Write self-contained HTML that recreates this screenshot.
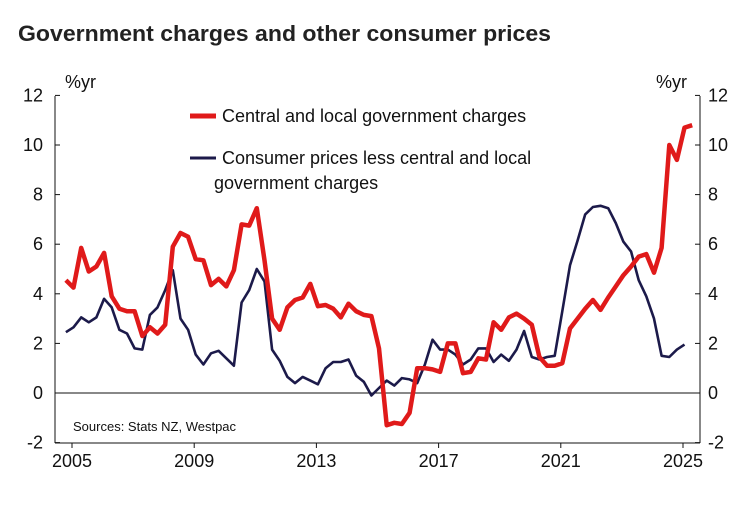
<!DOCTYPE html>
<html><head><meta charset="utf-8"><style>
body{margin:0;background:#fff;width:751px;height:519px;overflow:hidden;font-family:"Liberation Sans",sans-serif}
svg text{font-family:"Liberation Sans",sans-serif}
</style></head><body>
<svg width="751" height="519">
<text x="18" y="41" font-size="22" font-weight="bold" fill="#222" textLength="533" lengthAdjust="spacingAndGlyphs">Government charges and other consumer prices</text>
<g id="axes"></g>
<g id="series"></g>
<text x="65" y="88" font-size="18" fill="#111">%yr</text>
<text x="656" y="88" font-size="18" fill="#111">%yr</text>
<text x="73" y="431" font-size="13" fill="#111">Sources: Stats NZ, Westpac</text>
<g>
<line x1="190" y1="116" x2="216" y2="116" stroke="#e01a1a" stroke-width="5"/>
<text x="222" y="122" font-size="18" fill="#111">Central and local government charges</text>
<line x1="190" y1="158" x2="216" y2="158" stroke="#1c1a4a" stroke-width="3"/>
<text x="222" y="164" font-size="18" fill="#111">Consumer prices less central and local</text>
<text x="214" y="189" font-size="18" fill="#111">government charges</text>
</g>
</svg>
<script>
const startYear = 2004.8;
const yTicks = [-2,0,2,4,6,8,10,12];
const xTicks = [2005,2009,2013,2017,2021,2025];
const govCharges = [4.55,4.25,5.85,4.9,5.1,5.65,3.9,3.4,3.3,3.3,2.3,2.65,2.4,2.75,5.9,6.45,6.3,5.4,5.35,4.35,4.6,4.3,4.95,6.8,6.75,7.45,5.35,3.0,2.55,3.45,3.75,3.85,4.4,3.5,3.55,3.4,3.05,3.6,3.3,3.15,3.1,1.8,-1.3,-1.2,-1.25,-0.8,1.0,1.0,0.95,0.85,2.0,2.0,0.8,0.85,1.4,1.35,2.85,2.55,3.05,3.2,3.0,2.75,1.45,1.1,1.1,1.2,2.6,3.0,3.4,3.75,3.35,3.85,4.3,4.75,5.1,5.5,5.6,4.85,5.85,10.0,9.4,10.7,10.8];
const consumerPrices = [2.45,2.65,3.05,2.85,3.05,3.8,3.45,2.55,2.4,1.8,1.75,3.15,3.45,4.15,4.95,3.0,2.55,1.55,1.15,1.6,1.7,1.4,1.1,3.65,4.15,5.0,4.5,1.75,1.3,0.65,0.4,0.65,0.5,0.35,1.0,1.25,1.25,1.35,0.7,0.45,-0.1,0.2,0.5,0.3,0.6,0.55,0.4,1.15,2.15,1.75,1.75,1.55,1.15,1.35,1.8,1.8,1.25,1.55,1.3,1.75,2.5,1.45,1.35,1.45,1.5,3.3,5.15,6.15,7.2,7.5,7.55,7.45,6.85,6.1,5.7,4.55,3.9,3.0,1.5,1.45,1.75,1.95];
const L=55,R=700,T=96,B=443;
const y=v=>393-v*24.8;
const x=yr=>72+(yr-2005)*30.55;
const NS="http://www.w3.org/2000/svg";
function mk(tag,attrs,parent){const e=document.createElementNS(NS,tag);for(const k in attrs)e.setAttribute(k,attrs[k]);parent.appendChild(e);return e;}
const ax=document.getElementById('axes');
let e;
e=mk('line',{x1:L,y1:T,x2:L,y2:B,stroke:'#111','stroke-width':1},ax);


e=mk('line',{x1:R,y1:T,x2:R,y2:B,stroke:'#111','stroke-width':1},ax);


e=mk('line',{x1:L,y1:B,x2:R,y2:B,stroke:'#111','stroke-width':1},ax);


e=mk('line',{x1:L,y1:y(0),x2:R,y2:y(0),stroke:'#111','stroke-width':1},ax);


yTicks.forEach(v=>{
 mk('line',{x1:L,y1:y(v),x2:L+5,y2:y(v),stroke:'#111'},ax);
 mk('line',{x1:R-5,y1:y(v),x2:R,y2:y(v),stroke:'#111'},ax);
 e=mk('text',{x:L-12,y:y(v)+6,'font-size':18,'text-anchor':'end',fill:'#111'},ax);e.textContent=v;
 
 
 e=mk('text',{x:R+8,y:y(v)+6,'font-size':18,fill:'#111'},ax);e.textContent=v;
 
 
});
xTicks.forEach(t=>{
 mk('line',{x1:x(t),y1:B,x2:x(t),y2:B+5,stroke:'#111'},ax);
 e=mk('text',{x:x(t),y:B+24,'font-size':18,'text-anchor':'middle',fill:'#111'},ax);e.textContent=t;
 
 
});
const sg=document.getElementById('series');
function line(arr,color,w,name){
 const pts=arr.map((v,i)=>x(startYear+i*0.25).toFixed(1)+','+y(v).toFixed(1)).join(' ');
 const p=mk('polyline',{points:pts,fill:'none',stroke:color,'stroke-width':w,'stroke-linejoin':'round'},sg);
 
 
}
line(consumerPrices,'#1c1a4a',2.6,'consumer-prices-line');
line(govCharges,'#e01a1a',4.5,'gov-charges-line');
</script>
</body></html>
